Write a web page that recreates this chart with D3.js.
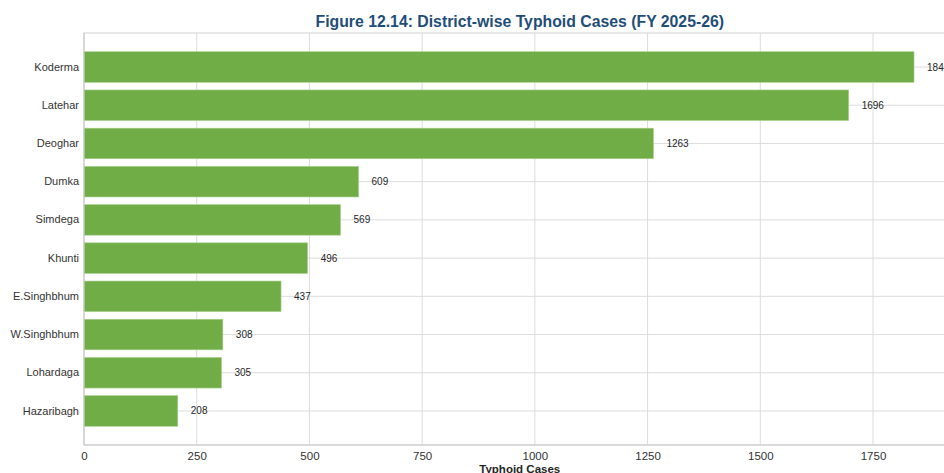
<!DOCTYPE html>
<html><head><meta charset="utf-8">
<script src="https://cdn.jsdelivr.net/npm/d3@7"></script>
<style>
html,body{margin:0;padding:0;background:#fff;overflow:hidden;}
svg{display:block;font-family:"Liberation Sans",Arial,sans-serif;}
</style></head>
<body>
<svg id="chart" width="944" height="473"></svg>
<script>
const districts = ["Koderma","Latehar","Deoghar","Dumka","Simdega","Khunti","E.Singhbhum","W.Singhbhum","Lohardaga","Hazaribagh"];
const cases = [1841,1696,1263,609,569,496,437,308,305,208];
const xTicks = [0,250,500,750,1000,1250,1500,1750,2000];
const title = "Figure 12.14: District-wise Typhoid Cases (FY 2025-26)";
const xLabel = "Typhoid Cases";

const svg = d3.select("#chart");
const mLeft = 84, mTop = 33, mBottom = 445;
const xMax = d3.max(cases) * 1.05;
const x = d3.scaleLinear().domain([0, xMax]).range([mLeft, mLeft + xMax * (789/1750)]);
const mRight = x(xMax);
const y = d3.scaleBand().domain(districts).range([mTop, mBottom]).paddingInner(0.2).paddingOuter(0.49);

// frame
svg.append("rect").attr("x", mLeft).attr("y", mTop).attr("width", mRight-mLeft).attr("height", mBottom-mTop)
  .attr("fill", "#fff").attr("stroke", "#d9d9d9").attr("stroke-width", 1.2);

// grid
svg.append("g").selectAll("line").data(xTicks.filter(t => t > 0 && t <= xMax)).join("line")
  .attr("x1", d => x(d)).attr("x2", d => x(d)).attr("y1", mTop).attr("y2", mBottom)
  .attr("stroke", "#dcdcdc").attr("stroke-width", 1);
svg.append("g").selectAll("line").data(districts).join("line")
  .attr("x1", mLeft).attr("x2", mRight).attr("y1", d => y(d) + y.bandwidth()/2).attr("y2", d => y(d) + y.bandwidth()/2)
  .attr("stroke", "#dcdcdc").attr("stroke-width", 1);

// bars
svg.append("g").selectAll("rect").data(districts).join("rect")
  .attr("x", x(0)).attr("y", d => y(d))
  .attr("width", (d, i) => x(cases[i]) - x(0)).attr("height", y.bandwidth())
  .attr("fill", "#70ad47").attr("stroke", "#a9d18e").attr("stroke-width", 0.6);

// value labels
svg.append("g").selectAll("text").data(districts).join("text")
  .attr("x", (d, i) => x(cases[i]) + 13).attr("y", d => y(d) + y.bandwidth()/2)
  .attr("dy", "0.35em").attr("font-size", 10).attr("fill", "#262626")
  .text((d, i) => cases[i]);

// spines
svg.append("line").attr("x1", mLeft).attr("x2", mLeft).attr("y1", mTop).attr("y2", mBottom).attr("stroke", "#cccccc").attr("stroke-width", 1.2);
svg.append("line").attr("x1", mLeft).attr("x2", mRight).attr("y1", mBottom).attr("y2", mBottom).attr("stroke", "#cccccc").attr("stroke-width", 1.2);

// x axis
const xAxis = d3.axisBottom(x).tickValues(xTicks.filter(t => t <= xMax)).tickSize(0).tickPadding(7).tickFormat(d3.format("d"));
const gx = svg.append("g").attr("transform", `translate(0,${mBottom})`).call(xAxis);
gx.select(".domain").remove();
gx.selectAll("text").attr("font-size", 11.5).attr("fill", "#333").attr("font-family", "Liberation Sans, Arial, sans-serif");

// y axis
const yAxis = d3.axisLeft(y).tickSize(0).tickPadding(5);
const gy = svg.append("g").attr("transform", `translate(${mLeft},0)`).call(yAxis);
gy.select(".domain").remove();
gy.selectAll("text").attr("font-size", 11).attr("fill", "#333").attr("font-family", "Liberation Sans, Arial, sans-serif");

// title
svg.append("text").attr("x", (mLeft + mRight)/2).attr("y", 27).attr("text-anchor", "middle")
  .attr("font-size", 15.8).attr("font-weight", "bold").attr("fill", "#1f4e79").text(title);

// x label
svg.append("text").attr("x", (mLeft + mRight)/2).attr("y", 473).attr("text-anchor", "middle")
  .attr("font-size", 11.5).attr("font-weight", "bold").attr("fill", "#262626").text(xLabel);
</script>
</body></html>
